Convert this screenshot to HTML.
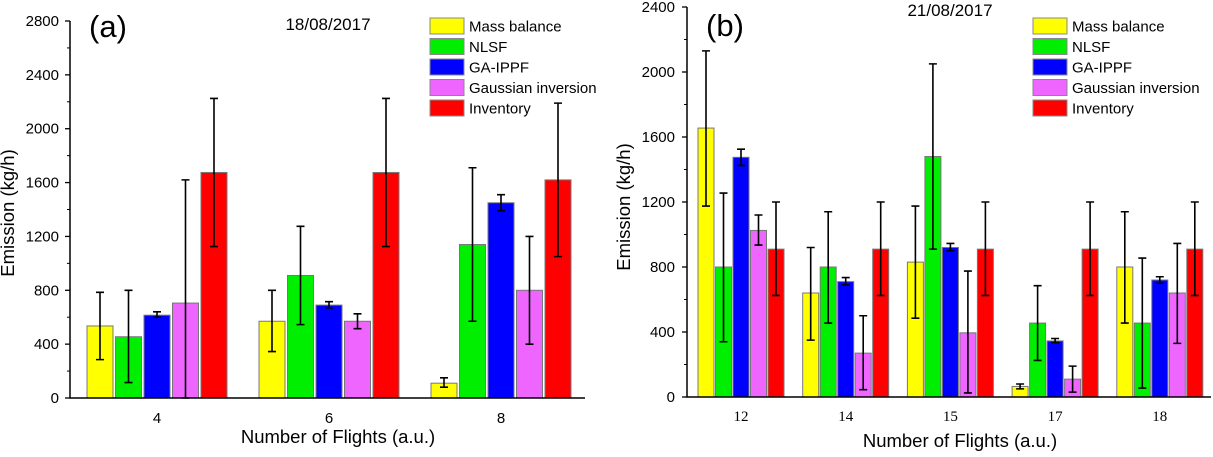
<!DOCTYPE html>
<html><head><meta charset="utf-8"><style>
body{margin:0;background:#fff}
svg text{font-family:"Liberation Sans",sans-serif;fill:#000}
</style></head><body>
<svg id="c" width="1213" height="452" xmlns="http://www.w3.org/2000/svg"></svg>
<script>
const seriesNames=["Mass balance","NLSF","GA-IPPF","Gaussian inversion","Inventory"];
const colors=["#ffff00","#00ee00","#0000ff","#ee66ff","#ff0000"];
const catsA=["4","6","8"];
const valsA=[[535,570,110],[455,910,1140],[615,690,1450],[705,570,800],[1675,1675,1620]];
const loA=[[285,345,80],[115,545,570],[600,670,1390],[0,515,400],[1125,1125,1050]];
const hiA=[[785,800,150],[800,1275,1710],[640,715,1510],[1620,625,1200],[2225,2225,2190]];
const ticksA=[0,400,800,1200,1600,2000,2400,2800];
const catsB=["12","14","15","17","18"];
const valsB=[[1655,640,830,65,800],[800,800,1480,455,455],[1475,710,920,345,720],[1025,270,395,110,640],[910,910,910,910,910]];
const loB=[[1175,350,485,50,455],[340,455,910,225,55],[1425,690,900,335,700],[935,45,25,30,330],[625,625,625,625,625]];
const hiB=[[2130,920,1175,80,1140],[1255,1140,2050,685,855],[1525,735,945,360,740],[1120,500,775,190,945],[1200,1200,1200,1200,1200]];
const ticksB=[0,400,800,1200,1600,2000,2400];
const svg=document.getElementById('c');
const NS="http://www.w3.org/2000/svg";
function mk(t,a,p){const e=document.createElementNS(NS,t);for(const k in a)e.setAttribute(k,a[k]);(p||svg).appendChild(e);return e;}
function panel(o){
 const g=mk('g',{});
 
 
 const y=v=>o.y0-(v/o.ymax)*(o.y0-o.ytop);
 const cx=i=>o.c0+i*o.cstep;
 for(let s=0;s<5;s++){for(let i=0;i<o.cats.length;i++){
  const x=cx(i)+(s-2)*o.step-o.bw/2;
  const r=mk('rect',{x:x,y:y(o.vals[s][i]),width:o.bw,height:o.y0-y(o.vals[s][i]),fill:colors[s],stroke:"#777","stroke-width":1},g);
  
  
  const ex=cx(i)+(s-2)*o.step;
  const eb=mk('path',{d:`M${ex},${y(o.lo[s][i])}V${y(o.hi[s][i])}M${ex-4},${y(o.lo[s][i])}h8M${ex-4},${y(o.hi[s][i])}h8`,stroke:"#000","stroke-width":1.6,fill:"none"},g);
  
  
 }}
 mk('path',{d:`M${o.ax},${o.ytop}V${o.y0}H${o.xr}`,stroke:"#000","stroke-width":1.5,fill:"none"},g);
 for(let k=0;k<o.ticks.length;k++){
  const t=o.ticks[k];
  mk('line',{x1:o.ax-5,x2:o.ax,y1:y(t),y2:y(t),stroke:"#000","stroke-width":1.3},g);
  if(k<o.ticks.length-1){const m=(t+o.ticks[k+1])/2;mk('line',{x1:o.ax-3,x2:o.ax,y1:y(m),y2:y(m),stroke:"#000","stroke-width":1},g);}
  const tl=mk('text',{x:o.ylx,y:y(t)+5,"text-anchor":"end","font-size":15},g);tl.textContent=t;
  
  
 }
 for(let i=0;i<o.cats.length;i++){
  const tl=mk('text',{x:cx(i),y:o.xly,"text-anchor":"middle","font-size":15,style:o.serif?"font-family:'Liberation Serif',serif":""},g);tl.textContent=o.cats[i];
  
  
 }
 const yt=mk('text',{x:0,y:0,"text-anchor":"middle","font-size":18.5,transform:`translate(${o.ytx},${o.yty}) rotate(-90)`},g);yt.textContent="Emission (kg/h)";
 
 
 const xt=mk('text',{x:o.xtx,y:o.xty,"text-anchor":"middle","font-size":18.5},g);xt.textContent="Number of Flights (a.u.)";
 
 
 const pl=mk('text',{x:o.plx,y:o.ply,"font-size":31},g);pl.textContent=o.label;
 
 
 const dt=mk('text',{x:o.dx,y:o.dy,"text-anchor":"middle","font-size":17},g);dt.textContent=o.date;
 
 
 for(let s=0;s<5;s++){
  const ry=o.lgy+s*20.5;
  const sw=mk('rect',{x:o.lgx,y:ry-8,width:34,height:16,fill:colors[s],stroke:"#888","stroke-width":1},g);
  
  
  const lt=mk('text',{x:o.lgx+39,y:ry+5.5,"font-size":15},g);lt.textContent=seriesNames[s];
  
  
 }
}
panel({id:'panel-a',cats:catsA,vals:valsA,lo:loA,hi:hiA,ticks:ticksA,ymax:2800,y0:398,ytop:21,ax:70,ylx:59,xr:585,c0:157,cstep:172,step:28.5,bw:26,xly:423,ytx:14,yty:213,xtx:338,xty:443,label:"(a)",plx:89,ply:37,date:"18/08/2017",dx:328,dy:30,lgx:430,lgy:26});
panel({id:'panel-b',cats:catsB,vals:valsB,lo:loB,hi:hiB,ticks:ticksB,ymax:2400,y0:397,ytop:7,ax:687,ylx:675,xr:1211,c0:741,cstep:104.7,step:17.5,bw:16,xly:421,ytx:630,yty:207,xtx:960,xty:447,label:"(b)",plx:706,ply:36,date:"21/08/2017",dx:950,dy:16,lgx:1033,lgy:26,serif:true});
</script>
</body></html>
